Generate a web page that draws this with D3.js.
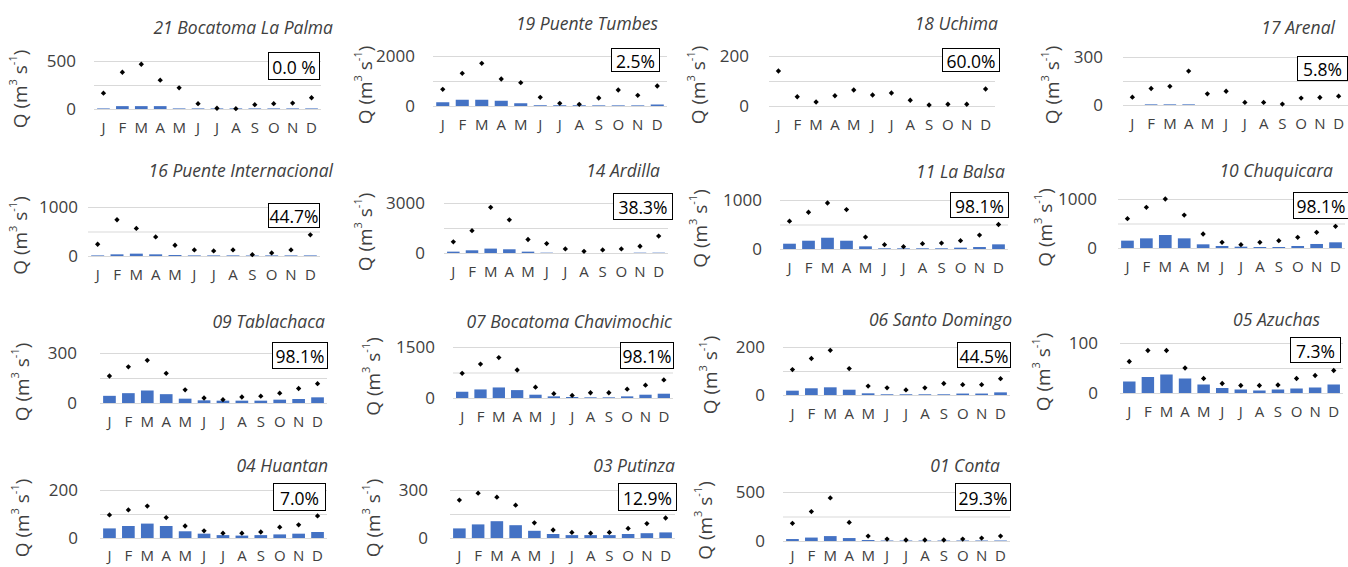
<!DOCTYPE html>
<html>
<head>
<meta charset="utf-8">
<script src="https://cdn.jsdelivr.net/npm/d3@7"></script>
<style>
  body { margin: 0; background: #fff; }
  svg { display: block; }
</style>
</head>
<body>
<svg id="chart" width="1348" height="567"></svg>
<script>
// Month initials along each x axis
const months = ["J", "F", "M", "A", "M", "J", "J", "A", "S", "O", "N", "D"];

// Gauging stations, one small panel each
const stations = [
  "21 Bocatoma La Palma", "19 Puente Tumbes", "18 Uchima", "17 Arenal",
  "16 Puente Internacional", "14 Ardilla", "11 La Balsa", "10 Chuquicara",
  "09 Tablachaca", "07 Bocatoma Chavimochic", "06 Santo Domingo", "05 Azuchas",
  "04 Huantan", "03 Putinza", "01 Conta"
];

// Percentage shown in the box of each panel
const coverage = [
  "0.0 %", "2.5%", "60.0%", "5.8%",
  "44.7%", "38.3%", "98.1%", "98.1%",
  "98.1%", "98.1%", "44.5%", "7.3%",
  "7.0%", "12.9%", "29.3%"
];

// Upper end of each panel's y axis (m3/s)
const yMax = [500, 2000, 200, 300, 1000, 3000, 1000, 1000, 300, 1500, 200, 100, 200, 300, 500];

// Monthly discharge shown as diamonds (m3/s)
const pointQ = [
  [165, 383, 466, 300, 221, 55, 8, 3, 45, 55, 62, 117],
  [667, 1307, 1707, 1080, 933, 347, 107, 67, 320, 640, 427, 800],
  [140, 37, 16, 41, 64, 44, 52, 23, 4, 7, 7, 68],
  [49, 103, 117, 212, 70, 86, 16, 16, 6, 43, 47, 55],
  [240, 740, 562, 390, 219, 123, 103, 123, 27, 62, 123, 432],
  [669, 1338, 2738, 1988, 811, 568, 243, 101, 183, 243, 406, 1014],
  [568, 750, 939, 804, 243, 88, 47, 108, 122, 169, 284, 500],
  [599, 830, 1000, 673, 286, 116, 68, 116, 150, 218, 320, 442],
  [162, 217, 256, 178, 79, 30, 20, 36, 41, 59, 87, 116],
  [726, 997, 1190, 823, 319, 126, 77, 155, 155, 261, 377, 532],
  [106, 152, 186, 110, 37, 30, 21, 30, 48, 43, 43, 68],
  [63, 85, 85, 50, 29, 19, 15, 15, 16, 29, 35, 45],
  [96, 117, 133, 85, 50, 30, 20, 20, 25, 45, 55, 92],
  [237, 280, 255, 205, 95, 50, 35, 30, 35, 60, 90, 125],
  [180, 300, 440, 190, 50, 20, 10, 10, 10, 20, 30, 50]
];

// Monthly discharge shown as bars (m3/s)
const barQ = [
  [6, 30, 30, 30, 6, 6, 6, 6, 6, 6, 6, 6],
  [150, 250, 250, 210, 110, 30, 30, 30, 25, 25, 25, 60],
  [0, 0, 0, 0, 0, 0, 0, 0, 0, 0, 0, 0],
  [0, 4, 4, 4, 0, 0, 0, 0, 0, 0, 0, 0],
  [12, 34, 48, 34, 20, 12, 12, 12, 10, 12, 12, 12],
  [81, 162, 264, 223, 81, 20, 0, 0, 0, 0, 20, 20],
  [108, 169, 230, 169, 54, 14, 14, 14, 14, 27, 40, 95],
  [150, 197, 265, 197, 75, 41, 27, 20, 20, 41, 82, 116],
  [43, 59, 75, 53, 26, 16, 14, 14, 14, 20, 24, 34],
  [184, 252, 310, 232, 97, 48, 29, 19, 19, 48, 97, 126],
  [18, 28, 32, 22, 7, 3, 3, 3, 3, 6, 6, 11],
  [23, 32, 37, 29, 17, 10, 7, 5, 7, 9, 11, 17],
  [40, 50, 60, 50, 28, 18, 12, 10, 12, 15, 18, 25],
  [60, 85, 105, 80, 45, 25, 18, 18, 18, 25, 30, 35],
  [20, 35, 50, 30, 10, 5, 5, 5, 5, 5, 5, 5]
];

// Panel geometry: plot area, title anchor, boxed label, tick label edge, axis title x,
// and gap between the zero line and the month labels
const frames = [
  { x0: 94,   x1: 321,  yTop: 61,  y0: 109, tx: 333,  ty: 34,  box: [268, 52, 51, 27],  tickR: 76,   lx: 20,   mOff: 13 },
  { x0: 433,  x1: 667,  yTop: 56,  y0: 106, tx: 658,  ty: 30,  box: [611, 48, 48, 23],  tickR: 415,  lx: 365,  mOff: 13 },
  { x0: 769,  x1: 995,  yTop: 56,  y0: 106, tx: 998,  ty: 30,  box: [942, 48, 57, 23],  tickR: 749,  lx: 698,  mOff: 13 },
  { x0: 1123, x1: 1348, yTop: 57,  y0: 105, tx: 1335, ty: 34,  box: [1297, 56, 50, 24], tickR: 1103, lx: 1052, mOff: 13 },
  { x0: 88,   x1: 320,  yTop: 207, y0: 256, tx: 333,  ty: 177, box: [268, 203, 51, 24], tickR: 78,   lx: 20,   mOff: 13 },
  { x0: 444,  x1: 668,  yTop: 203, y0: 253, tx: 660,  ty: 177, box: [613, 193, 59, 26], tickR: 425,  lx: 365,  mOff: 13 },
  { x0: 780,  x1: 1008, yTop: 200, y0: 249, tx: 1005, ty: 178, box: [950, 192, 58, 25], tickR: 762,  lx: 700,  mOff: 13 },
  { x0: 1118, x1: 1345, yTop: 199, y0: 248, tx: 1333, ty: 177, box: [1293, 192, 55, 26], tickR: 1097, lx: 1045, mOff: 13 },
  { x0: 100,  x1: 327,  yTop: 353, y0: 403, tx: 325,  ty: 328, box: [272, 342, 55, 26], tickR: 77,   lx: 22,   mOff: 13 },
  { x0: 453,  x1: 673,  yTop: 347, y0: 398, tx: 672,  ty: 328, box: [620, 342, 53, 26], tickR: 435,  lx: 373,  mOff: 13 },
  { x0: 783,  x1: 1010, yTop: 347, y0: 395, tx: 1012, ty: 326, box: [957, 342, 53, 25], tickR: 765,  lx: 710,  mOff: 13 },
  { x0: 1120, x1: 1343, yTop: 343, y0: 393, tx: 1320, ty: 326, box: [1290, 337, 50, 25], tickR: 1098, lx: 1043, mOff: 13 },
  { x0: 100,  x1: 327,  yTop: 490, y0: 538, tx: 328,  ty: 472, box: [273, 483, 52, 27], tickR: 78,   lx: 22,   mOff: 12 },
  { x0: 450,  x1: 675,  yTop: 490, y0: 538, tx: 675,  ty: 472, box: [618, 483, 58, 27], tickR: 428,  lx: 373,  mOff: 12 },
  { x0: 783,  x1: 1010, yTop: 492, y0: 541, tx: 1000, ty: 472, box: [955, 483, 55, 27], tickR: 765,  lx: 705,  mOff: 9 }
];

const FONT = "'Open Sans', 'Noto Sans', sans-serif";
const TEXT = "#404040";
const GRID = "#d9d9d9";
const BAR = "#4472c4";

const svg = d3.select("#chart");
const diamond = d3.symbol().type(d3.symbolSquare).size(14);

frames.forEach((f, i) => {
  const g = svg.append("g").attr("class", "panel");
  const x = d3.scaleBand().domain(d3.range(12)).range([f.x0, f.x1])
    .paddingInner(0.33).paddingOuter(0.165);
  const y = d3.scaleLinear().domain([0, yMax[i]]).range([f.y0, f.yTop]);

  // gridlines and y tick labels (mid gridline unlabeled)
  const yAxis = d3.axisLeft(y)
    .tickValues([0, yMax[i] / 2, yMax[i]])
    .tickSize(-(f.x1 - f.x0))
    .tickPadding(f.x0 - f.tickR)
    .tickFormat(v => (v === yMax[i] / 2 ? "" : d3.format("d")(v)));
  const ya = g.append("g").attr("transform", `translate(${f.x0},0)`).call(yAxis);
  ya.select(".domain").remove();
  ya.selectAll(".tick line").attr("stroke", GRID).attr("stroke-width", 1);
  ya.selectAll(".tick text").attr("fill", TEXT).attr("font-family", FONT).attr("font-size", 17);

  // month labels
  const xAxis = d3.axisBottom(x).tickSize(0).tickPadding(0).tickFormat(d => months[d]);
  const xa = g.append("g").attr("transform", `translate(0,${f.y0 + f.mOff})`).call(xAxis);
  xa.select(".domain").remove();
  xa.selectAll(".tick text").attr("fill", TEXT).attr("font-family", FONT).attr("font-size", 15)
    .attr("dy", "0.71em");

  // bars
  g.append("g").selectAll("rect")
    .data(barQ[i].map((v, k) => ({ v, k })).filter(d => d.v > 0))
    .join("rect")
    .attr("x", d => x(d.k))
    .attr("width", x.bandwidth())
    .attr("y", d => y(d.v))
    .attr("height", d => y(0) - y(d.v))
    .attr("fill", BAR);

  // diamonds
  g.append("g").selectAll("path")
    .data(pointQ[i])
    .join("path")
    .attr("d", diamond)
    .attr("transform", (v, k) => `translate(${x(k) + x.bandwidth() / 2},${y(v)}) rotate(45)`)
    .attr("fill", "#000");

  // panel title
  g.append("text")
    .attr("x", f.tx).attr("y", f.ty)
    .attr("text-anchor", "end")
    .attr("font-family", FONT).attr("font-style", "italic").attr("font-size", 17.5)
    .attr("fill", TEXT)
    .text(stations[i]);

  // boxed percentage
  const [bx, by, bw, bh] = f.box;
  g.append("rect")
    .attr("x", bx + 0.5).attr("y", by + 0.5).attr("width", bw).attr("height", bh)
    .attr("fill", "#fff").attr("stroke", "#000").attr("stroke-width", 1);
  g.append("text")
    .attr("x", bx + bw / 2 + 0.5).attr("y", by + bh / 2 + 1)
    .attr("text-anchor", "middle").attr("dominant-baseline", "central")
    .attr("font-family", FONT).attr("font-size", 17.5).attr("fill", "#000")
    .text(coverage[i]);

  // y axis title: Q (m3 s-1)
  const ly = (f.y0 + f.yTop) / 2 + 4;
  const lab = g.append("text")
    .attr("transform", `translate(${f.lx},${ly}) rotate(-90)`)
    .attr("text-anchor", "middle").attr("dominant-baseline", "central")
    .attr("font-family", FONT).attr("font-size", 19).attr("fill", TEXT);
  lab.append("tspan").text("Q (m");
  lab.append("tspan").attr("font-size", 11).attr("dy", -8).text("3");
  lab.append("tspan").attr("dy", 8).text(" s");
  lab.append("tspan").attr("font-size", 11).attr("dy", -8).text("-1");
  lab.append("tspan").attr("dy", 8).text(")");
});
</script>
</body>
</html>
